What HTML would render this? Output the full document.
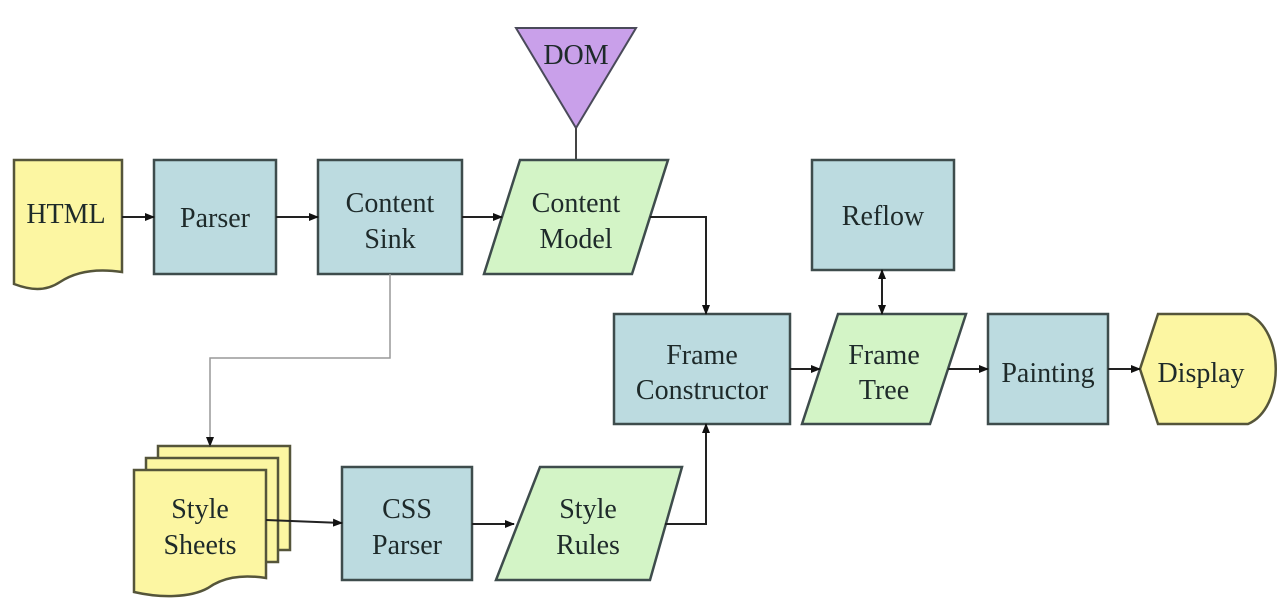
<!DOCTYPE html>
<html><head><style>
body{margin:0;background:#fff;}
svg{display:block;}
text{font-family:"Liberation Serif",serif;font-size:28px;fill:#1e2a2a;text-anchor:middle;}
.b{fill:#bcdbe0;stroke:#3e4c4c;stroke-width:2.5;}
.y{fill:#fcf6a2;stroke:#55553a;stroke-width:2.5;}
.g{fill:#d3f4c6;stroke:#3e4c4c;stroke-width:2.5;}
.l{stroke:#222;stroke-width:2;fill:none;}
</style></head><body>
<svg width="1288" height="612" viewBox="0 0 1288 612">
<defs><marker id="a" markerWidth="10" markerHeight="10" refX="9" refY="5" orient="auto" markerUnits="userSpaceOnUse"><path d="M0,1 L10,5 L0,9 z" fill="#111"/></marker></defs>
<polygon points="516,28 636,28 576,128" fill="#c9a0ea" stroke="#4a4a5a" stroke-width="2"/>
<text x="576" y="64">DOM</text>
<line x1="576" y1="128" x2="576" y2="160" stroke="#444" stroke-width="2"/>
<path class="y" d="M14,160 H122 V272 C95,268 75,272 60,282 C45,292 30,290 14,284 Z"/>
<text x="66" y="223">HTML</text>
<rect class="b" x="154" y="160" width="122" height="114"/>
<text x="215" y="227">Parser</text>
<rect class="b" x="318" y="160" width="144" height="114"/>
<text x="390" y="212">Content</text><text x="390" y="248">Sink</text>
<polygon class="g" points="520,160 668,160 632,274 484,274"/>
<text x="576" y="212">Content</text><text x="576" y="248">Model</text>
<rect class="b" x="812" y="160" width="142" height="110"/>
<text x="883" y="225">Reflow</text>
<rect class="b" x="614" y="314" width="176" height="110"/>
<text x="702" y="364">Frame</text><text x="702" y="399">Constructor</text>
<polygon class="g" points="838,314 966,314 930,424 802,424"/>
<text x="884" y="364">Frame</text><text x="884" y="399">Tree</text>
<rect class="b" x="988" y="314" width="120" height="110"/>
<text x="1048" y="382">Painting</text>
<path class="y" d="M1158,314 H1248 C1285,330 1285,408 1248,424 H1158 L1140,369 Z"/>
<text x="1201" y="382">Display</text>
<rect class="y" x="158" y="446" width="132" height="104"/>
<rect class="y" x="146" y="458" width="132" height="104"/>
<path class="y" d="M134,470 H266 V578 C240,574 222,578 208,588 C190,598 160,598 134,592 Z"/>
<text x="200" y="518">Style</text><text x="200" y="554">Sheets</text>
<rect class="b" x="342" y="467" width="130" height="113"/>
<text x="407" y="518">CSS</text><text x="407" y="554">Parser</text>
<polygon class="g" points="540,467 682,467 650,580 496,580"/>
<text x="588" y="518">Style</text><text x="588" y="554">Rules</text>
<line class="l" x1="122" y1="217" x2="154" y2="217" marker-end="url(#a)"/>
<line class="l" x1="276" y1="217" x2="318" y2="217" marker-end="url(#a)"/>
<line class="l" x1="462" y1="217" x2="502" y2="217" marker-end="url(#a)"/>
<polyline class="l" points="650,217 706,217 706,314" marker-end="url(#a)"/>
<polyline class="l" points="665,524 706,524 706,424" marker-end="url(#a)"/>
<polyline points="390,274 390,358 210,358 210,446" fill="none" stroke="#999" stroke-width="1.5" marker-end="url(#a)"/>
<line class="l" x1="266" y1="520" x2="342" y2="523" marker-end="url(#a)"/>
<line class="l" x1="472" y1="524" x2="514" y2="524" marker-end="url(#a)"/>
<line class="l" x1="790" y1="369" x2="820" y2="369" marker-end="url(#a)"/>
<line class="l" x1="948" y1="369" x2="988" y2="369" marker-end="url(#a)"/>
<line class="l" x1="1108" y1="369" x2="1140" y2="369" marker-end="url(#a)"/>
<line class="l" x1="882" y1="290" x2="882" y2="314" marker-end="url(#a)"/>
<line class="l" x1="882" y1="294" x2="882" y2="270" marker-end="url(#a)"/>
</svg>
</body></html>
